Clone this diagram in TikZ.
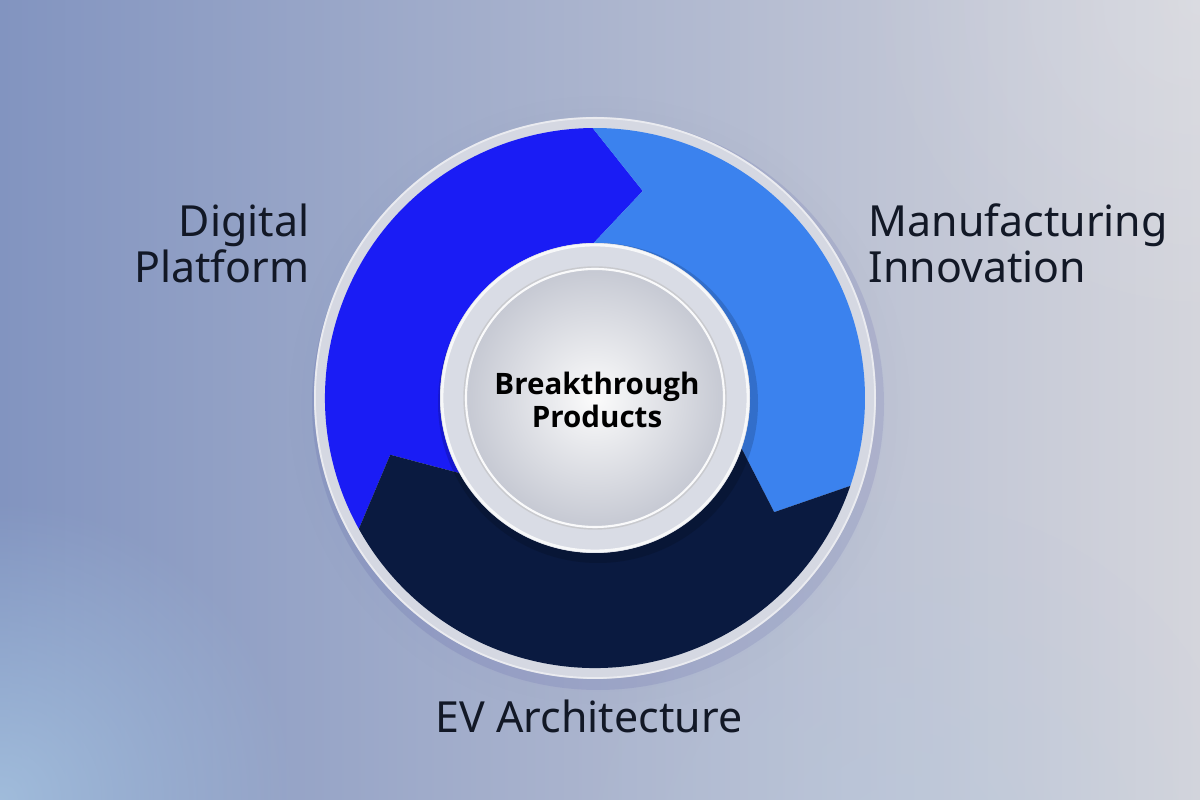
\documentclass[tikz,border=0pt]{standalone}
\usepackage{fontspec}
\setmainfont{Noto Sans}
\newfontfamily\hubfont{Open Sans}
\usepackage{xcolor}
\usetikzlibrary{positioning, fadings}
\definecolor{digiblue}{HTML}{1A1CF5}
\definecolor{manublue}{HTML}{3B82EE}
\definecolor{evnavy}{HTML}{13306C}
\definecolor{evnavydark}{HTML}{0A1A40}
\definecolor{labelink}{HTML}{121826}
\definecolor{bgleft}{HTML}{8294C0}
\definecolor{bgmid}{HTML}{C3C6D3}
\definecolor{bgright}{HTML}{D4D5DC}
\definecolor{bgglow}{HTML}{A8C6E2}
\definecolor{rimgray}{HTML}{D5D8E2}
\definecolor{discedge}{HTML}{C6C9D3}
\tikzfading[name=glowfade, inner color=transparent!0, outer color=transparent!100]

\begin{document}
\begin{tikzpicture}[x=1cm, y=1cm,
    sidelabel/.style={text=labelink, font=\fontsize{12.2}{13.2}\selectfont, inner sep=0pt},
    hublabel/.style={text=black, font=\hubfont\bfseries\fontsize{8.4}{9.4}\selectfont, align=center, inner sep=0pt}]
  \useasboundingbox (0,0) rectangle (12,8);

  % background
  \shade[left color=bgleft, middle color=bgmid, right color=bgright] (0,0) rectangle (12,8);
  \fill[bgglow, opacity=0.8, path fading=glowfade] (0,0) circle (3.0);
  \fill[bgglow!70!bgright, opacity=0.35, path fading=glowfade] (9,-0.5) circle (3.5);
  \fill[white, opacity=0.15, path fading=glowfade] (12,8) circle (3.5);

  \def\Ro{2.7}
  \def\Ri{1.55}
  \def\Rm{2.125}
  \begin{scope}[shift={(5.95,4.02)}]
    % outer rim + shadow
    \fill[black!70!blue, opacity=0.10, path fading=glowfade] (0.04,-0.08) circle (3.15);
    \fill[black!50!blue, opacity=0.08] (0.03,-0.06) circle (2.86);
    \fill[rimgray] (0,0) circle (2.81);
    \draw[white, opacity=0.5, line width=0.5pt] (0,0) circle (2.80);

    % Digital Platform segment
    \fill[digiblue] (209:\Ro) arc[start angle=209, end angle=90.5, radius=\Ro]
      -- (77:\Rm) -- (90.5:\Ri) arc[start angle=90.5, end angle=209, radius=\Ri]
      -- (195.5:\Rm) -- cycle;
    % Manufacturing Innovation segment
    \fill[manublue] (90.5:\Ro) arc[start angle=90.5, end angle=-19, radius=\Ro]
      -- (-32.5:\Rm) -- (-19:\Ri) arc[start angle=-19, end angle=90.5, radius=\Ri]
      -- (77:\Rm) -- cycle;
    % EV Architecture segment
    \shade[left color=evnavydark, middle color=evnavy!85!evnavydark, right color=evnavydark]
      (341:\Ro) arc[start angle=341, end angle=209, radius=\Ro]
      -- (195.5:\Rm) -- (209:\Ri) arc[start angle=209, end angle=341, radius=\Ri]
      -- (-32.5:\Rm) -- cycle;

    % hub
    \fill[black, opacity=0.15] (0.03,-0.05) circle (1.60);
    \fill[rimgray!90!white] (0,0) circle (1.55);
    \draw[white, opacity=0.8, line width=0.8pt] (0,0) circle (1.53);
    \shade[inner color=white!97!gray, outer color=discedge] (0,0) circle (1.29);
    \draw[white, opacity=0.9, line width=0.6pt] (0,0) circle (1.29);
    \draw[gray!50, opacity=0.6, line width=0.4pt] (0,0) circle (1.31);
  \end{scope}

  % labels
  \node[hublabel] (hub) at (5.97,4.00) {Breakthrough\\Products};
  \node[sidelabel, anchor=base east, align=right] (digital) at (3.10,5.17) {Digital\\Platform};
  \node[sidelabel, anchor=base west, align=left] (manufacturing) at (8.68,5.17) {Manufacturing\\Innovation};
  \node[sidelabel, anchor=base] (ev) at (5.89,0.67) {EV Architecture};
\end{tikzpicture}
\end{document}
